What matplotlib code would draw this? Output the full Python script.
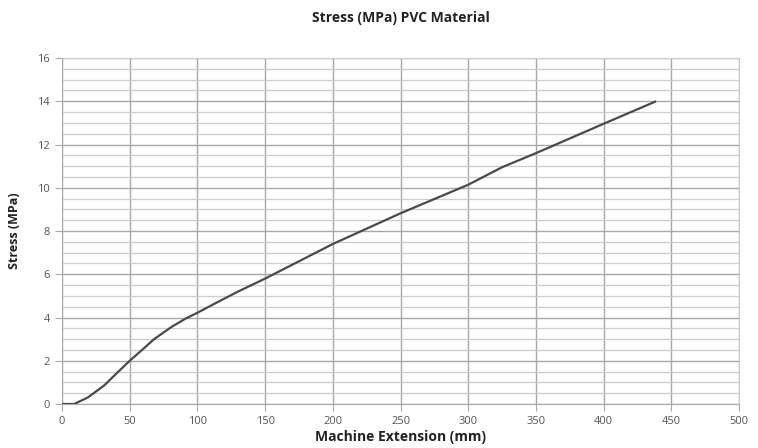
import matplotlib.pyplot as plt
import numpy as np
from matplotlib.ticker import MultipleLocator

# values
extension = [0, 9, 19, 31, 40, 50, 60, 68, 81, 91, 100, 113, 130, 150, 175, 200, 250, 300, 325, 350, 400, 438]
stress = [0, 0, 0.3, 0.85, 1.4, 2.0, 2.55, 3.0, 3.57, 3.94, 4.22, 4.65, 5.2, 5.8, 6.6, 7.4, 8.82, 10.14, 10.95, 11.6, 12.96, 13.98]

plt.rcParams['font.family'] = ['Open Sans', 'DejaVu Sans']

fig = plt.figure(figsize=(7.58, 4.48), dpi=100)
ax = fig.add_axes([0.0818, 0.0982, 0.8932, 0.7723])

ax.plot(extension, stress, color='#4a4a4a', linewidth=1.6, zorder=3)

ax.set_xlim(0, 500)
ax.set_ylim(0, 16)
ax.xaxis.set_major_locator(MultipleLocator(50))
ax.yaxis.set_major_locator(MultipleLocator(2))
ax.yaxis.set_minor_locator(MultipleLocator(0.5))

ax.grid(which='major', axis='both', color='#a8a8a8', linewidth=1.0)
ax.grid(which='minor', axis='y', color='#cccccc', linewidth=0.9)
ax.set_axisbelow(True)

for s in ['top', 'right']:
    ax.spines[s].set_color('#cccccc')
for s in ['left', 'bottom']:
    ax.spines[s].set_color('#a8a8a8')

ax.tick_params(which='major', length=5, color='#a8a8a8', labelsize=8, labelcolor='#555555')
ax.tick_params(which='minor', length=0)

ax.set_title("Stress (MPa) PVC Material", fontsize=10, fontweight='bold', color='#222222', pad=26)
ax.set_xlabel("Machine Extension (mm)", fontsize=10, fontweight='bold', color='#222222', labelpad=2)
ax.set_ylabel("Stress (MPa)", fontsize=9, fontweight='bold', color='#222222', labelpad=12)

fig.savefig('out.png', dpi=100)
